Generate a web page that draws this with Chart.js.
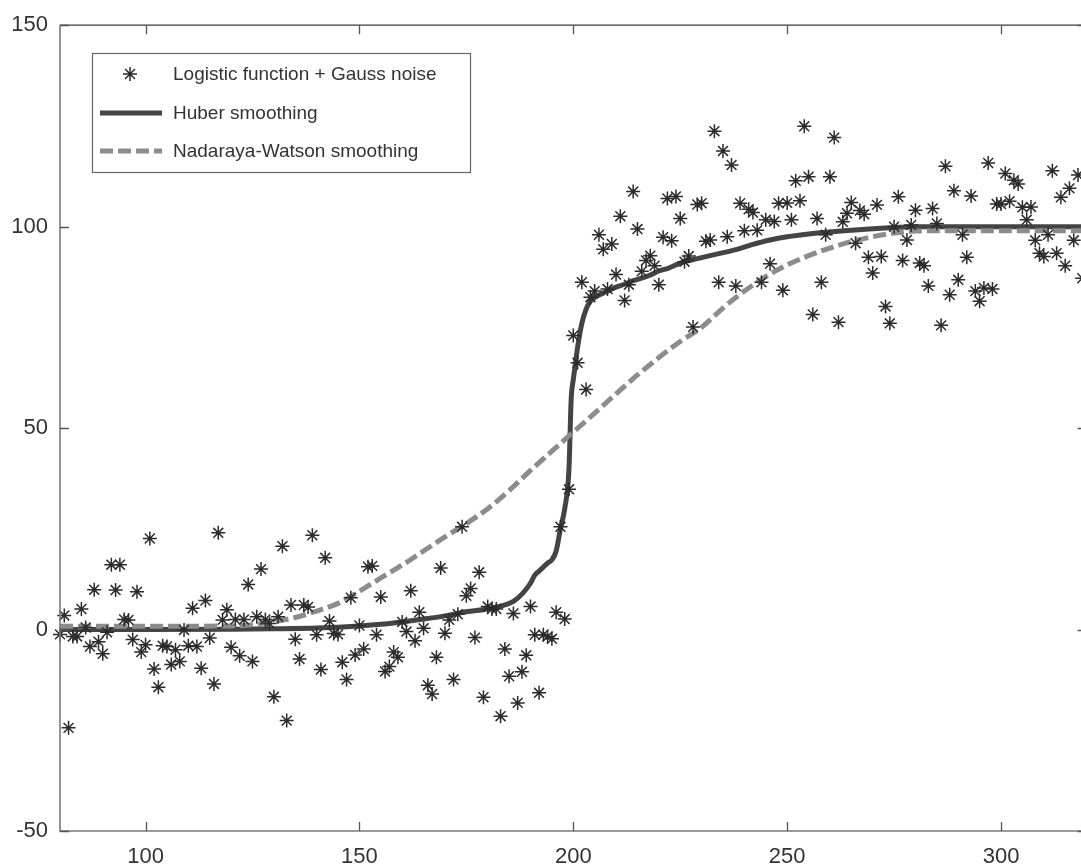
<!DOCTYPE html>
<html>
<head>
<meta charset="utf-8">
<script src="https://cdn.jsdelivr.net/npm/chart.js@4/dist/chart.umd.min.js"></script>
<style>
  html, body { margin: 0; padding: 0; background: #fff; overflow: hidden; }
  #chart { display: block; }
</style>
</head>
<body>
<canvas id="chart" width="1081" height="868"></canvas>
<script>
// axis limits and tick labels
// the original figure is cropped on the right: its box ends at x = 320,
// but only the part up to about 318.7 is inside the picture
const xMin = 80, xViewMax = 318.7, xBoxMax = 320;
const yMin = -50, yMax = 150;
const xTicks = [100, 150, 200, 250, 300];
const yTicks = [-50, 0, 50, 100, 150];

// noisy samples, one per unit of x starting at noiseStart
const noiseStart = 80;
const noiseY = [
    -1.2, 3.5, -24.4, -1.7, -1.7, 5.1, 0.5, -4.2, 9.9, -3,
    -6, -0.7, 16.1, 9.8, 16.1, 2.5, 2.4, -2.5, 9.4, -5.6,
    -3.8, 22.6, -9.8, -14.3, -4, -4.2, -8.7, -5, -7.9, -0.1,
    -4, 5.3, -4.2, -9.6, 7.2, -2.1, -13.5, 24, 2.4, 4.9,
    -4.4, 2.5, -6.5, 2.5, 11.2, -7.9, 3.2, 15, 2.5, 1.5,
    -16.7, 3.2, 20.7, -22.6, 6.1, -2.4, -7.3, 6.1, 5.6, 23.4,
    -1.3, -9.9, 17.8, 2.1, -1.0, -1.2, -8.1, -12.4, 7.9, -6.3,
    1.0, -4.8, 15.6, 15.8, -1.3, 8.1, -10.4, -9.2, -5.6, -6.9,
    1.9, -0.5, 9.6, -2.8, 4.3, 0.3, -13.8, -16, -6.9, 15.3,
    -0.9, 2.4, -12.4, 3.8, 25.5, 8.4, 10.2, -2, 14.2, -16.8,
    5.7, 5.1, 5.1, -21.5, -4.8, -11.6, 4.0, -18.2, -10.5, -6.4,
    5.7, -1.3, -15.7, -1.3, -1.7, -2.3, 4.3, 25.5, 2.6, 34.8,
    73, 66.2, 86.2, 59.6, 82.5, 84, 98, 94.4, 84.5, 95.7,
    88.1, 102.6, 81.7, 85.6, 108.7, 99.4, 88.9, 91.6, 92.8, 90.3,
    85.6, 97.4, 107, 96.5, 107.5, 102, 91.3, 92.7, 75.1, 105.5,
    105.8, 96.4, 96.7, 123.7, 86.2, 118.8, 97.5, 115.3, 85.3, 105.8,
    99, 104.3, 103.5, 99.1, 86.2, 101.7, 90.8, 101.3, 105.8, 84.2,
    105.9, 101.7, 111.4, 106.4, 124.9, 112.4, 78.2, 102, 86.2, 98,
    112.4, 122.1, 76.3, 101.2, 103.3, 106, 95.9, 104, 103.1, 92.4,
    88.5, 105.4, 92.6, 80.2, 76, 100, 107.4, 91.6, 96.7, 100.4,
    104.1, 91, 90.3, 85.3, 104.5, 100.8, 75.5, 115, 83.1, 108.9,
    86.8, 98, 92.4, 107.6, 84, 81.5, 84.8, 115.8, 84.5, 105.6,
    105.6, 113.2, 106.3, 111.5, 110.6, 104.8, 101.7, 104.9, 96.6, 93.4,
    92.6, 98, 113.9, 93.4, 107.3, 90.3, 109.5, 96.6, 112.8, 87.2,
    107.4
];

// Huber smoothing
const huberX = [80, 100, 120, 130, 140, 150, 155, 160, 165, 170, 175, 180, 183, 186, 188, 190, 191, 192, 193, 194, 195, 196, 197, 198, 199, 199.5, 200, 200.5, 201, 202, 203, 204, 206, 208, 210, 212, 214, 216, 218, 220, 222, 224, 226, 228, 230, 234, 238, 242, 246, 250, 255, 260, 265, 270, 275, 280, 320];
const huberY = [0, 0, 0.1, 0.2, 0.4, 0.9, 1.3, 1.9, 2.6, 3.4, 4.4, 5.1, 5.8, 7, 8.8, 11.5, 13.5, 14.5, 15.5, 16.5, 17.3, 19.5, 25, 30, 40, 57, 62, 66, 70, 76, 79.5, 81.5, 83, 84, 85, 85.7, 86.6, 87.2, 88, 89, 89.6, 90.5, 91.3, 91.8, 92.3, 93.3, 94.3, 95.6, 96.7, 97.5, 98.2, 98.7, 99.1, 99.5, 99.8, 100, 100];

// Nadaraya-Watson smoothing
const nwX = [80, 100, 120, 125, 130, 135, 140, 145, 150, 155, 160, 165, 170, 175, 180, 185, 190, 195, 200, 205, 210, 215, 220, 225, 230, 235, 240, 245, 250, 255, 260, 265, 270, 275, 280, 290, 320];
const nwY = [0.8, 0.8, 0.9, 1.2, 2, 3, 4.6, 6.5, 9.5, 12.8, 16, 19.5, 23, 26.3, 30, 34.5, 39.5, 44.3, 49, 53.7, 58.5, 63.2, 67.5, 71.5, 75, 79.8, 84, 87.6, 90.5, 92.8, 94.7, 96.3, 97.5, 98.4, 98.9, 99, 99];

const labels = ['Logistic function + Gauss noise', 'Huber smoothing', 'Nadaraya-Watson smoothing'];

const fontFamily = "'Liberation Sans', Arial, Helvetica, sans-serif";
const tickLen = 9;

function pairs(xs, ys) {
    return xs.map((x, i) => ({ x: x, y: ys[i] }));
}

// box round the plot with inward ticks on all four sides
const framePlugin = {
    id: 'frame',
    afterDraw(chart) {
        const ctx = chart.ctx;
        const a = chart.chartArea;
        const xs = chart.scales.x, ys = chart.scales.y;
        const right = xs.getPixelForValue(xBoxMax);
        ctx.save();
        ctx.lineWidth = 1.6;
        ctx.strokeStyle = '#7a7a7a';
        ctx.beginPath();
        ctx.moveTo(a.left, a.top);
        ctx.lineTo(a.left, a.bottom);
        ctx.lineTo(right, a.bottom);
        ctx.lineTo(right, a.top);
        ctx.stroke();
        ctx.strokeStyle = '#3a3a3a';
        ctx.lineWidth = 1.3;
        ctx.beginPath();
        ctx.moveTo(a.left, a.top);
        ctx.lineTo(right, a.top);
        ctx.stroke();
        ctx.lineWidth = 1.3;
        ctx.strokeStyle = '#555';
        ctx.beginPath();
        xTicks.forEach(v => {
            const px = Math.round(xs.getPixelForValue(v)) + 0.5;
            ctx.moveTo(px, a.bottom);
            ctx.lineTo(px, a.bottom - tickLen);
            ctx.moveTo(px, a.top);
            ctx.lineTo(px, a.top + tickLen);
        });
        yTicks.forEach(v => {
            const py = Math.round(ys.getPixelForValue(v)) + 0.5;
            ctx.moveTo(a.left, py);
            ctx.lineTo(a.left + tickLen, py);
            ctx.moveTo(right, py);
            ctx.lineTo(right - tickLen, py);
        });
        ctx.stroke();
        ctx.restore();
    }
};

// legend box in the upper left corner of the plot
const legendPlugin = {
    id: 'boxLegend',
    afterDraw(chart) {
        const ctx = chart.ctx;
        const ds = chart.data.datasets;
        const left = 92, top = 53, width = 378, height = 119;
        ctx.save();
        ctx.fillStyle = '#fff';
        ctx.fillRect(left, top, width, height);
        ctx.strokeStyle = '#666';
        ctx.lineWidth = 1.2;
        ctx.strokeRect(left + 0.5, top + 0.5, width, height);

        const rows = [top + 21, top + 60, top + 98];
        ctx.strokeStyle = ds[0].borderColor;
        ctx.lineWidth = 1.5;
        Chart.helpers.drawPoint(ctx, { pointStyle: 'star', radius: 7, rotation: 0, borderWidth: 1.5 }, 130, rows[0]);

        [1, 2].forEach((k, j) => {
            ctx.beginPath();
            ctx.strokeStyle = ds[k].borderColor;
            ctx.lineWidth = ds[k].borderWidth;
            ctx.setLineDash(ds[k].borderDash || []);
            ctx.moveTo(100, rows[j + 1]);
            ctx.lineTo(162, rows[j + 1]);
            ctx.stroke();
        });
        ctx.setLineDash([]);

        ctx.fillStyle = '#333';
        ctx.font = '19px ' + fontFamily;
        ctx.textBaseline = 'middle';
        ctx.textAlign = 'left';
        labels.forEach((t, i) => ctx.fillText(t, 173, rows[i] + 1));
        ctx.restore();
    }
};

const ctx = document.getElementById('chart').getContext('2d');
const chart = new Chart(ctx, {
    type: 'scatter',
    data: {
        datasets: [
            {
                label: labels[0],
                data: noiseY.map((y, i) => ({ x: noiseStart + i, y: y })),
                showLine: false,
                pointStyle: 'star',
                pointRadius: 7,
                pointBorderWidth: 1.5,
                borderColor: '#2b2b2b',
                backgroundColor: '#2b2b2b',
                clip: false,
                order: 0
            },
            {
                label: labels[1],
                type: 'line',
                data: pairs(huberX, huberY),
                borderColor: '#444444',
                borderWidth: 5,
                pointRadius: 0,
                fill: false,
                cubicInterpolationMode: 'monotone',
                clip: 0,
                order: 2
            },
            {
                label: labels[2],
                type: 'line',
                data: pairs(nwX, nwY),
                borderColor: '#8c8c8c',
                borderWidth: 5,
                borderDash: [13, 5],
                pointRadius: 0,
                fill: false,
                cubicInterpolationMode: 'monotone',
                clip: 0,
                order: 1
            }
        ]
    },
    options: {
        animation: false,
        responsive: false,
        layout: { autoPadding: false, padding: { top: 22, right: 0, left: 0, bottom: 0 } },
        plugins: {
            legend: { display: false },
            tooltip: { enabled: false }
        },
        scales: {
            x: {
                type: 'linear',
                min: xMin,
                max: xViewMax,
                afterBuildTicks: s => { s.ticks = xTicks.map(v => ({ value: v })); },
                afterFit: s => { s.height = 37; },
                grid: { display: false, drawTicks: false },
                border: { display: false },
                ticks: {
                    padding: 13,
                    color: '#333',
                    font: { family: fontFamily, size: 22 },
                    maxRotation: 0,
                    autoSkip: false
                }
            },
            y: {
                type: 'linear',
                min: yMin,
                max: yMax,
                afterBuildTicks: s => { s.ticks = yTicks.map(v => ({ value: v })); },
                afterFit: s => { s.width = 60; },
                grid: { display: false, drawTicks: false },
                border: { display: false },
                ticks: {
                    padding: 12,
                    color: '#333',
                    font: { family: fontFamily, size: 22 }
                }
            }
        }
    },
    plugins: [framePlugin, legendPlugin]
});
</script>
</body>
</html>
